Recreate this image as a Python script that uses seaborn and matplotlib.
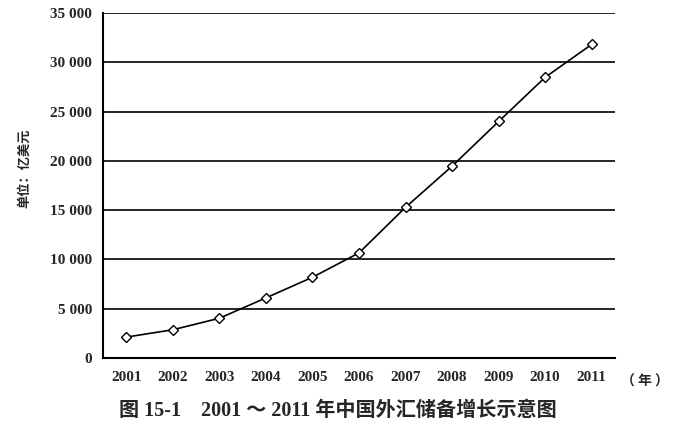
import numpy as np
import matplotlib
matplotlib.use("Agg")
import matplotlib.pyplot as plt
import seaborn as sns

# data (100 million USD)
years = ["2001", "2002", "2003", "2004", "2005", "2006",
         "2007", "2008", "2009", "2010", "2011"]
reserves = [2122, 2864, 4033, 6099, 8189, 10663,
            15282, 19460, 23992, 28473, 31811]
yticks = [0, 5000, 10000, 15000, 20000, 25000, 30000, 35000]

sns.set_style("white")
plt.rcParams["font.family"] = ["Liberation Serif", "Noto Sans CJK SC"]

fig = plt.figure(figsize=(6.75, 4.26), dpi=100)
ax = fig.add_axes([0.1526, 0.1596, 0.7585, 0.81])

pos = np.arange(len(years))
sns.lineplot(x=pos, y=reserves, ax=ax, color="black", linewidth=1.2,
             marker="D", markersize=5.5, markerfacecolor="white",
             markeredgecolor="black", markeredgewidth=1.0)

ax.set_xlim(-0.5, len(years) - 0.5)
ax.set_ylim(0, 35000)

for v in yticks[1:]:
    ax.axhline(v, color="black", linewidth=1.2, zorder=0)

ax.set_yticks(yticks)
ax.set_yticklabels([f"{v:,}".replace(",", " ") for v in yticks],
                   fontsize=11, fontweight="bold")
ax.set_xticks(pos)
ax.set_xticklabels(years, fontsize=11, fontweight="bold")
ax.set_xticks(np.arange(-0.5, len(years), 1.0), minor=True)
ax.tick_params(axis="x", which="major", length=0, pad=9)
ax.tick_params(axis="x", which="minor", length=5, width=1.2, direction="out")
ax.tick_params(axis="y", length=5, width=1.2, direction="out", pad=3)

sns.despine(ax=ax, top=True, right=True)
for s in ["left", "bottom"]:
    ax.spines[s].set_linewidth(1.5)
    ax.spines[s].set_color("black")

ax.set_ylabel("单位：亿美元", family=["Noto Sans CJK SC"], fontsize=9.5,
              fontweight="bold")
ax.yaxis.set_label_coords(-0.14, 0.55)
fig.text(0.956, 0.105, "（ 年 ）", family=["Noto Sans CJK SC"], fontsize=10,
         fontweight="bold", ha="center", va="center")
fig.text(0.5, 0.035, "图 15-1    2001 ～ 2011 年中国外汇储备增长示意图",
         family=["Liberation Serif", "Noto Sans CJK SC"], fontsize=14.5,
         fontweight="bold", ha="center", va="center")

fig.savefig("out.png", dpi=100)
